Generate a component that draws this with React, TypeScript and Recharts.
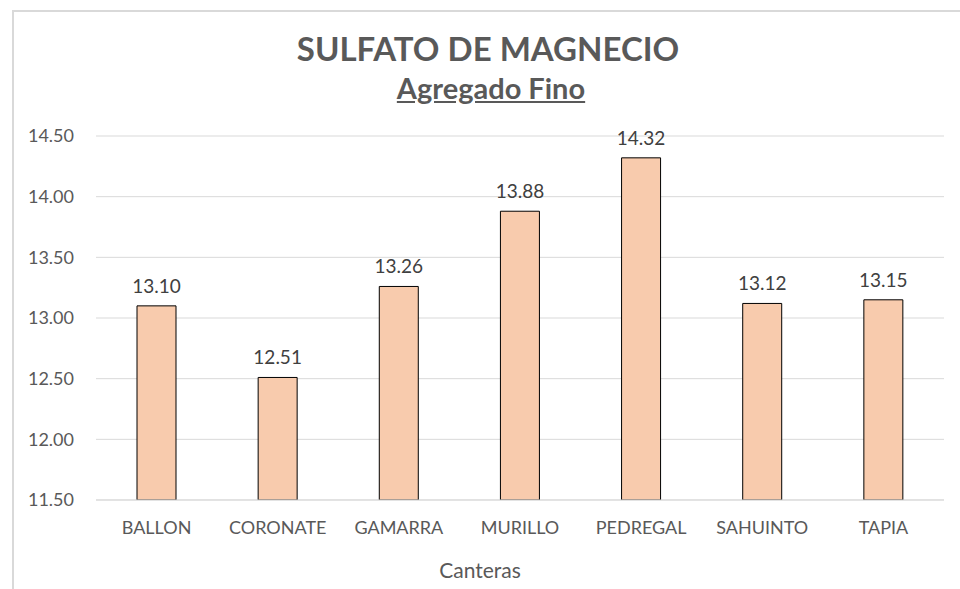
import { BarChart, Bar, XAxis, YAxis, CartesianGrid, LabelList } from 'recharts';

const canteras = ['BALLON', 'CORONATE', 'GAMARRA', 'MURILLO', 'PEDREGAL', 'SAHUINTO', 'TAPIA'];
const valores = [13.1, 12.51, 13.26, 13.88, 14.32, 13.12, 13.15];
const yTicks = [11.5, 12, 12.5, 13, 13.5, 14, 14.5];

const data = canteras.map((name, i) => ({ name, valor: valores[i] }));

const FONT = "Lato, sans-serif";

export default function App() {
    return (
        <div
            style={{
                position: 'absolute',
                left: 0,
                top: 0,
                width: 960,
                height: 589,
                background: '#fff',
                overflow: 'hidden',
                fontFamily: FONT,
            }}
        >
            <div
                style={{
                    position: 'absolute',
                    left: 12,
                    top: 10,
                    width: 960,
                    height: 600,
                    borderLeft: '2px solid #d9d9d9',
                    borderTop: '2px solid #d9d9d9',
                }}
            />
            <div
                style={{
                    position: 'absolute',
                    left: 0,
                    width: 976,
                    top: 27,
                    textAlign: 'center',
                    fontSize: 33,
                    lineHeight: '42px',
                    fontWeight: 'bold',
                    color: '#595959',
                }}
            >
                SULFATO DE MAGNECIO
            </div>
            <div
                style={{
                    position: 'absolute',
                    left: 0,
                    width: 982,
                    top: 71,
                    textAlign: 'center',
                    fontSize: 29,
                    lineHeight: '34px',
                    fontWeight: 'bold',
                    color: '#595959',
                    textDecoration: 'underline',
                }}
            >
                Agregado Fino
            </div>
            <BarChart
                width={960}
                height={589}
                data={data}
                margin={{ top: 136, right: 16, left: 0, bottom: 29 }}
                style={{ position: 'absolute', left: 0, top: 0 }}
            >
                <CartesianGrid vertical={false} stroke="#d9d9d9" />
                <XAxis
                    dataKey="name"
                    height={60}
                    tickLine={false}
                    axisLine={{ stroke: '#d9d9d9' }}
                    tickMargin={15}
                    tick={{ fill: '#595959', fontSize: 18, fontFamily: FONT }}
                    interval={0}
                />
                <YAxis
                    width={96}
                    domain={[11.5, 14.5]}
                    ticks={yTicks}
                    tickLine={false}
                    axisLine={false}
                    tickMargin={16}
                    tick={{ fill: '#595959', fontSize: 18, fontFamily: FONT }}
                    tickFormatter={(v: number) => v.toFixed(2)}
                    allowDataOverflow
                />
                <Bar dataKey="valor" fill="#f8cbad" stroke="#000" strokeWidth={1} barSize={39} isAnimationActive={false}>
                    <LabelList
                        dataKey="valor"
                        position="top"
                        offset={13}
                        fill="#404040"
                        fontSize={19}
                        fontFamily={FONT}
                        formatter={(v: number) => v.toFixed(2)}
                    />
                </Bar>
            </BarChart>
            <div
                style={{
                    position: 'absolute',
                    left: 380,
                    width: 200,
                    top: 557,
                    textAlign: 'center',
                    fontSize: 21,
                    color: '#595959',
                }}
            >
                Canteras
            </div>
        </div>
    );
}
